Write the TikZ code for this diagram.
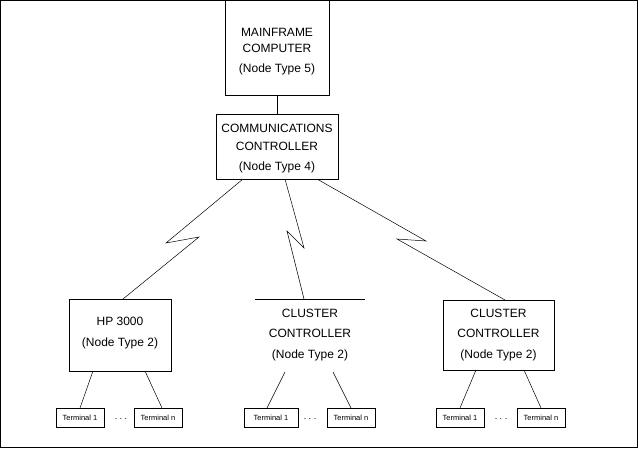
\documentclass[tikz,border=0pt]{standalone}
\usepackage{fontspec}
\setmainfont{Liberation Sans}
\begin{document}
\begin{tikzpicture}[x=1pt,y=-1pt,
  line width=0.6pt,
  box/.style={draw, rectangle, inner sep=0pt, outer sep=0pt},
  openbox/.style={rectangle, inner sep=0pt, outer sep=0pt},
  lbl/.style={inner sep=0pt, font=\fontsize{12}{14}\selectfont},
  tlbl/.style={inner sep=0pt, font=\fontsize{7.5}{9}\selectfont},
  term/.style={draw, rectangle, inner sep=0pt, outer sep=0pt, minimum height=19pt},
  link/.style={line width=0.5pt},
  dots/.style={inner sep=0pt, font=\fontsize{9}{10}\selectfont}]
\useasboundingbox (0,0) rectangle (638,448);
\draw[line width=1.2pt] (0.6,0.6) rectangle (637.4,447.4);

% Mainframe
\node[box, minimum width=104pt, minimum height=95pt] (mf) at (277,47.5) {};
\node[lbl] (mf1) at (277,32) {MAINFRAME};
\node[lbl] (mf2) at (277,48) {COMPUTER};
\node[lbl] (mf3) at (277,69) {(Node Type 5)};

% Communications controller
\node[box, minimum width=122pt, minimum height=65pt] (cc) at (277,146.5) {};
\node[lbl] (cc1) at (277,128) {COMMUNICATIONS};
\node[lbl] (cc2) at (277,146) {CONTROLLER};
\node[lbl] (cc3) at (277,167) {(Node Type 4)};
\draw (mf.south) -- (cc.north);

% HP 3000
\node[box, minimum width=102pt, minimum height=72pt] (hp) at (120,335) {};
\node[lbl] (hp1) at (120,321) {HP 3000};
\node[lbl] (hp2) at (120,343) {(Node Type 2)};

% Cluster controller (middle, top line only)
\node[openbox, minimum width=110pt, minimum height=73pt] (cm) at (310,335.5) {};
\draw (cm.north west) -- (cm.north east);
\node[lbl] (cm1) at (310,313) {CLUSTER};
\node[lbl] (cm2) at (310,333) {CONTROLLER};
\node[lbl] (cm3) at (310,355) {(Node Type 2)};

% Cluster controller (right)
\node[box, minimum width=111pt, minimum height=70pt] (cr) at (498.5,335) {};
\node[lbl] (cr1) at (498.5,313) {CLUSTER};
\node[lbl] (cr2) at (498.5,333) {CONTROLLER};
\node[lbl] (cr3) at (498.5,355) {(Node Type 2)};

% Lightning links
\coordinate (la) at (166,243);
\coordinate (lb) at (199,237);
\draw[link] ([xshift=-34pt]cc.south) -- (la) -- (lb) -- ([xshift=3pt]hp.north);
\coordinate (ma) at (304,248);
\coordinate (mb) at (287,231);
\draw[link] ([xshift=8pt]cc.south) -- (ma) -- (mb) -- ([xshift=-6pt]cm.north);
\coordinate (ra) at (426,241);
\coordinate (rb) at (397,239);
\draw[link] ([xshift=40pt]cc.south) -- (ra) -- (rb) -- ([xshift=6.5pt]cr.north);

% Terminals, left group
\node[term, minimum width=48pt] (hpt1) at (80,417.5) {};
\node[tlbl] (hpt1l) at (80,418) {Terminal 1};
\node[term, minimum width=48pt] (hptn) at (158,417.5) {};
\node[tlbl] (hptnl) at (158,418) {Terminal n};
\node[dots] (hpd) at (121,419) {.\ .\ .};
\draw[link] ([xshift=-27pt]hp.south) -- (hpt1.north);
\draw[link] ([xshift=25pt]hp.south) -- ([xshift=4pt]hptn.north);

% Terminals, middle group
\node[term, minimum width=54pt] (cmt1) at (271,417.5) {};
\node[tlbl] (cmt1l) at (271,418) {Terminal 1};
\node[term, minimum width=48pt] (cmtn) at (351,417.5) {};
\node[tlbl] (cmtnl) at (351,418) {Terminal n};
\node[dots] (cmd) at (310,419) {.\ .\ .};
\draw[link] ([xshift=-25pt]cm.south) -- ([xshift=-4pt]cmt1.north);
\draw[link] ([xshift=23pt]cm.south) -- (cmtn.north);

% Terminals, right group
\node[term, minimum width=48pt] (crt1) at (460,417.5) {};
\node[tlbl] (crt1l) at (460,418) {Terminal 1};
\node[term, minimum width=48pt] (crtn) at (541,417.5) {};
\node[tlbl] (crtnl) at (541,418) {Terminal n};
\node[dots] (crd) at (501,419) {.\ .\ .};
\draw[link] ([xshift=-22.5pt]cr.south) -- (crt1.north);
\draw[link] ([xshift=25.5pt]cr.south) -- (crtn.north);
\end{tikzpicture}
\end{document}
